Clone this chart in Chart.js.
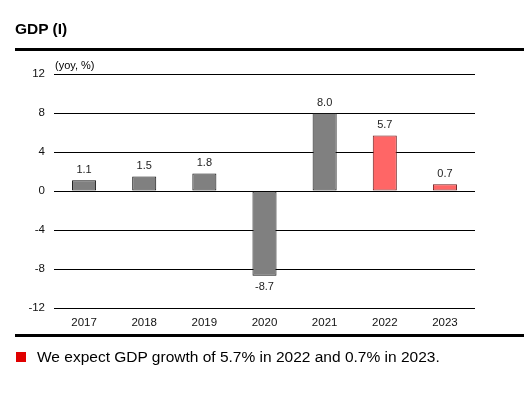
<!DOCTYPE html>
<html><head><meta charset="utf-8">
<script src="https://cdn.jsdelivr.net/npm/chart.js@4"></script>
<style>
html,body{margin:0;padding:0;background:#fff;}
#wrap{position:relative;width:524px;height:396px;font-family:"Liberation Sans",Arial,sans-serif;}
#c{position:absolute;left:0;top:0;}
.t{position:absolute;color:#000;white-space:nowrap;}
#title{left:15px;top:20px;font-weight:bold;font-size:15.5px;}
#rule1{position:absolute;left:15px;top:48px;width:509px;height:3px;background:#000;}
#rule2{position:absolute;left:15px;top:334px;width:509px;height:3px;background:#000;}
#unit{left:55px;top:59px;font-size:11px;}
#sq{position:absolute;left:16px;top:352px;width:10px;height:10px;background:#e00000;}
#leg{left:37px;top:348px;font-size:15.5px;}
</style></head>
<body><div id="wrap">
<canvas id="c" width="524" height="396"></canvas>
<div class="t" id="title">GDP (I)</div>
<div id="rule1"></div>
<div class="t" id="unit">(yoy, %)</div>
<div id="rule2"></div>
<div id="sq"></div>
<div class="t" id="leg">We expect GDP growth of 5.7% in 2022 and 0.7% in 2023.</div>
</div>
<script>
const categories = ["2017","2018","2019","2020","2021","2022","2023"];
const gdpGrowth = [1.1, 1.5, 1.8, -8.7, 8.0, 5.7, 0.7];
const isForecast = [false,false,false,false,false,true,true];
const yTicks = [12, 8, 4, 0, -4, -8, -12];

const labelPlugin = {
  id:'vals',
  afterDatasetsDraw(chart){
    const ctx = chart.ctx;
    const meta = chart.getDatasetMeta(0);
    ctx.save();
    ctx.font = '11px "Liberation Sans", Arial, sans-serif';
    ctx.fillStyle = '#222';
    ctx.textAlign = 'center';
    meta.data.forEach((bar,i)=>{
      const v = gdpGrowth[i];
      if (v >= 0) { ctx.textBaseline='bottom'; ctx.fillText(v.toFixed(1), bar.x, bar.y - 5); }
      else { ctx.textBaseline='top'; ctx.fillText(v.toFixed(1), bar.x, bar.y + 6); }
    });
    ctx.restore();
  }
};

new Chart(document.getElementById('c'), {
  type:'bar',
  data:{
    labels: categories,
    datasets:[{
      data: gdpGrowth,
      backgroundColor: isForecast.map(f=> f ? '#ff6666' : '#808080'),
      borderColor: isForecast.map(f=> f ? '#6a1a1a' : '#111'),
      borderWidth: 1,
      borderSkipped: false,
      barPercentage: 0.4,
      categoryPercentage: 1.0
    }]
  },
  options:{
    responsive:false,
    animation:false,
    devicePixelRatio:1,
    layout:{padding:{top:74,right:49,left:0,bottom:0}},
    plugins:{legend:{display:false},tooltip:{enabled:false}},
    scales:{
      x:{
        grid:{display:false, drawTicks:false},
        border:{display:false},
        ticks:{color:'#111', font:{size:11.5, family:'"Liberation Sans", Arial, sans-serif'}, padding:8, maxRotation:0},
        afterFit(s){ s.height = 88; }
      },
      y:{
        min:-12, max:12,
        afterBuildTicks(s){ s.ticks = yTicks.map(v=>({value:v})); },
        grid:{color:'#000', lineWidth:1, drawTicks:false},
        border:{display:false},
        ticks:{color:'#111', font:{size:11.5, family:'"Liberation Sans", Arial, sans-serif'}, padding:9},
        afterFit(s){ s.width = 54; }
      }
    }
  },
  plugins:[labelPlugin]
});
</script>
</body></html>
